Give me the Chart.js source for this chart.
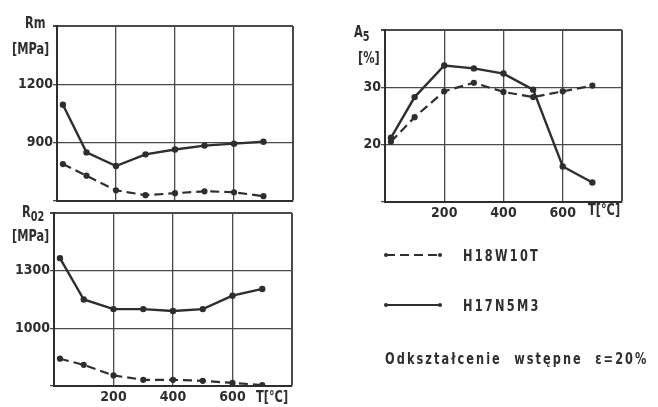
<!DOCTYPE html>
<html>
<head>
<meta charset="utf-8">
<script src="https://cdn.jsdelivr.net/npm/chart.js@4.4.0/dist/chart.umd.min.js"></script>
<style>
  html, body { margin: 0; padding: 0; background: #fff; }
  #page { position: relative; width: 658px; height: 407px; overflow: hidden;
          font-family: "DejaVu Sans Condensed", "DejaVu Sans", sans-serif;
          font-weight: bold; color: #2e2e2e; }
  canvas { position: absolute; }
  .lbl { position: absolute; font-size: 14px; line-height: 16px; white-space: nowrap;
         transform-origin: left center; transform: scale(0.9, 1.15); }
  .lbl sub { font-size: 12px; vertical-align: -3px; }
  svg { position: absolute; left: 0; top: 0; }
</style>
</head>
<body>
<div id="page">
  <canvas id="rmChart" width="300" height="210" style="left:0;top:0"></canvas>
  <canvas id="r02Chart" width="300" height="207" style="left:0;top:200px"></canvas>
  <canvas id="a5Chart" width="328" height="225" style="left:330px;top:0"></canvas>

  <div class="lbl" style="left:25px;top:14px">Rm</div>
  <div class="lbl" style="left:12px;top:40px">[MPa]</div>
  <div class="lbl" style="left:22px;top:204px">R<sub>02</sub></div>
  <div class="lbl" style="left:12px;top:227px">[MPa]</div>
  <div class="lbl" style="left:256px;top:388px">T[°C]</div>

  <div class="lbl" style="left:354px;top:24px">A<sub>5</sub></div>
  <div class="lbl" style="left:358px;top:49px">[%]</div>
  <div class="lbl" style="left:588px;top:201px">T[°C]</div>

  <svg width="658" height="407">
    <line x1="386" y1="255" x2="440" y2="255" stroke="#2e2e2e" stroke-width="2.2" stroke-dasharray="9 5"/>
    <circle cx="386" cy="255" r="2" fill="#2e2e2e"/><circle cx="440" cy="255" r="2" fill="#2e2e2e"/>
    <line x1="386" y1="305" x2="440" y2="305" stroke="#2e2e2e" stroke-width="2.2"/>
    <circle cx="386" cy="305" r="2" fill="#2e2e2e"/><circle cx="440" cy="305" r="2" fill="#2e2e2e"/>
  </svg>
  <div class="lbl" style="left:463px;top:247px;letter-spacing:2.5px">H18W10T</div>
  <div class="lbl" style="left:463px;top:297px;letter-spacing:2.5px">H17N5M3</div>
  <div class="lbl" style="left:385px;top:350px;letter-spacing:2.3px;word-spacing:7px">Odkształcenie wstępne ε=20%</div>
</div>

<script>
// temperatura badania [°C]
const temps = [20, 100, 200, 300, 400, 500, 600, 700];

// Rm [MPa]
const rmH18W10T = [790, 730, 655, 630, 640, 650, 645, 625];
const rmH17N5M3 = [1095, 850, 780, 840, 865, 885, 895, 905];

// R02 [MPa]
const r02H18W10T = [842, 810, 755, 732, 732, 727, 716, 705];
const r02H17N5M3 = [1365, 1150, 1100, 1100, 1090, 1100, 1170, 1205];

// A5 [%]
const a5H18W10T = [20.5, 24.8, 29.3, 30.8, 29.2, 28.3, 29.3, 30.3];
const a5H17N5M3 = [21.2, 28.3, 33.8, 33.3, 32.4, 29.6, 16.2, 13.4];

const ink = '#2e2e2e';
const gridInk = '#4a4a4a';
const tickFont = { family: '"DejaVu Sans Condensed", "DejaVu Sans", sans-serif', size: 14, weight: 'bold' };

function points(values) {
  return temps.map((t, i) => ({ x: t, y: values[i] }));
}

function makeChart(id, box, y, dashed, solid, showX) {
  return new Chart(document.getElementById(id), {
    type: 'line',
    data: {
      datasets: [
        { data: points(dashed), borderColor: ink, backgroundColor: ink, borderWidth: 2.2,
          borderDash: [9, 5], pointRadius: 2, pointHoverRadius: 2, tension: 0 },
        { data: points(solid), borderColor: ink, backgroundColor: ink, borderWidth: 2.4,
          pointRadius: 2, pointHoverRadius: 2, tension: 0 }
      ]
    },
    options: {
      responsive: false,
      animation: false,
      events: [],
      layout: { padding: { top: box.top, right: box.right, left: 0, bottom: 0 } },
      plugins: { legend: { display: false }, tooltip: { enabled: false } },
      scales: {
        x: {
          type: 'linear', min: 0, max: 800,
          grid: { color: gridInk, drawTicks: false,
                  lineWidth: c => (c.tick && c.tick.value === 800 ? 2 : 1.3) },
          border: { color: ink, width: 2 },
          ticks: { display: showX, stepSize: 200, autoSkip: false, maxRotation: 0,
                   padding: 3, color: ink, font: tickFont,
                   callback: v => (v === 0 || v === 800 ? '' : v) },
          afterFit: s => { s.height = box.bottom; }
        },
        y: {
          min: y.min, max: y.max,
          grid: { color: gridInk, tickLength: 4,
                  lineWidth: c => (c.tick && c.tick.value === y.max ? 2 : 1.3) },
          border: { color: ink, width: 2 },
          ticks: { stepSize: y.step, padding: 0, color: ink, font: tickFont,
                   callback: v => (v === y.min || v === y.max ? '' : v) },
          afterFit: s => { s.width = box.left; }
        }
      }
    }
  });
}

makeChart('rmChart', { left: 57, top: 26, right: 7, bottom: 9 },
  { min: 600, max: 1500, step: 300 }, rmH18W10T, rmH17N5M3, false);

makeChart('r02Chart', { left: 54, top: 13, right: 8, bottom: 21 },
  { min: 700, max: 1600, step: 300 }, r02H18W10T, r02H17N5M3, true);

makeChart('a5Chart', { left: 55, top: 30, right: 36, bottom: 23 },
  { min: 10, max: 40, step: 10 }, a5H18W10T, a5H17N5M3, true);
</script>
</body>
</html>
